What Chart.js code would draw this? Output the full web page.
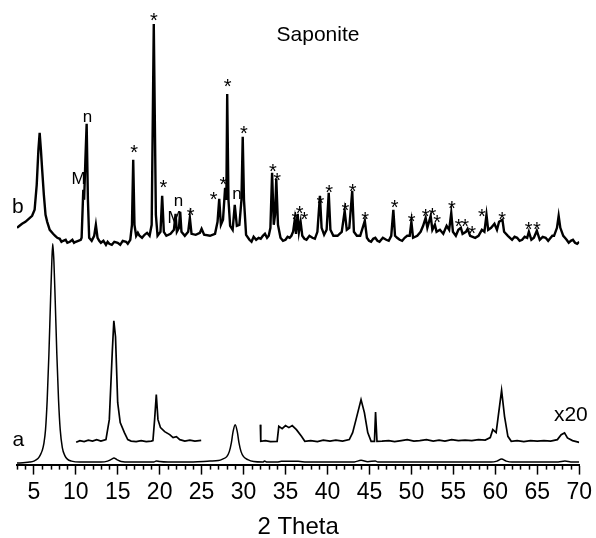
<!DOCTYPE html>
<html>
<head>
<meta charset="utf-8">
<script src="https://cdn.jsdelivr.net/npm/chart.js@4.4.1/dist/chart.umd.min.js"></script>
<style>
html, body { margin: 0; padding: 0; background: #fff; }
#wrap { width: 596px; height: 538px; position: relative; }
</style>
</head>
<body>
<div id="wrap"><canvas id="xrd" width="596" height="538"></canvas></div>
<script>
// pattern a (as measured)
var aX = [3, 4, 4.5, 5, 5.5, 5.8, 6, 6.2, 6.4, 6.6, 6.8, 7, 7.15, 7.26, 7.4, 7.55, 7.75, 7.95, 8.15, 8.4, 8.7, 9, 9.5, 10.5,
  13, 13.8, 14.3, 14.55, 14.9, 15.4, 16.5, 19.3, 19.6, 20, 21, 24, 26, 27, 27.5, 28, 28.3, 28.55, 28.75, 29, 29.25, 29.45, 29.7, 30, 30.5, 31.2,
  32.3, 32.5, 32.8, 34, 34.5, 36.5, 37.5, 43.2, 44, 44.8, 45.7, 46, 59.5, 60.2, 60.75, 61.3, 62, 67.5, 68.3, 69, 70];
var aY = [1.5, 2, 2.5, 3.5, 6, 10, 14, 21, 35, 65, 110, 165, 203, 221, 203, 165, 110, 65, 35, 17, 9, 5.5, 3.5, 2.5,
  2.5, 3.5, 5.5, 6.5, 5, 3.2, 2.5, 2.5, 3.7, 3, 2.5, 2.7, 3.5, 4, 5.5, 8, 13, 22, 33, 40, 33, 22, 13, 8, 5, 3,
  2.5, 3.5, 2.5, 2.5, 3.3, 3.3, 2.5, 2.7, 4.3, 2.8, 3.7, 2.5, 2.5, 3.5, 5.5, 3.5, 2.5, 2.7, 3.5, 2.7, 2.5];

// pattern a, x20 (gap near the 29 peak)
var cX = [10.05, 10.5, 11, 11.5, 12, 12.5, 13, 13.6, 14, 14.35, 14.54, 14.74, 15, 15.3, 15.8, 16.2, 16.6, 17.2, 17.8, 18.4, 19, 19.2, 19.4, 19.6, 19.8,
  20.1, 20.6, 21.2, 21.6, 22, 22.4, 23, 23.6, 24.2, 24.95, 28,
  32, 32.05, 32.6, 33.2, 34, 34.2, 34.6, 35, 35.4, 35.8, 36.3, 36.9, 37.3, 38, 38.8, 39.5, 40.3, 41, 41.8, 42.6, 43, 43.4, 44, 44.4, 44.8,
  45.2, 45.6, 45.73, 45.9, 46.5, 47.3, 48, 48.8, 49.5, 50.3, 51, 51.8, 52.6, 53.3, 54, 54.8, 55.6, 56.4, 57.2, 58, 58.8, 59.4, 59.7, 60.1, 60.3,
  60.75, 61.1, 61.5, 61.9, 62.6, 63.4, 64.2, 65, 65.8, 66.6, 67.4, 67.85, 68.25, 68.6, 69.2, 70];
var cY = [22.3, 24, 23, 24.5, 23.5, 25, 23.5, 25, 45, 112, 144, 128, 62, 42, 32, 25, 23.5, 23, 24, 23, 23.5, 24, 45, 70, 45,
  37, 33, 30, 27, 28, 25, 23.5, 24.5, 23.5, 24.3, null,
  40, 23.3, 24, 23, 23.3, 38.3, 36, 39, 37, 39, 35, 28.3, 23.3, 24, 23, 24.5, 23.5, 24.5, 23.5, 25, 32, 45, 65, 52, 32,
  23.3, 23.3, 52.7, 23.3, 23.5, 24, 23, 24, 25, 23.5, 24, 25, 23.5, 24.5, 23.5, 25, 24, 24.5, 24, 25, 24.5, 27, 35, 32, 45,
  74.3, 48.3, 28.3, 23.3, 24, 23, 24, 23.5, 24, 23.5, 25, 30, 31.7, 26.7, 24, 22.3];

// pattern b
var bX = [3, 3.3, 3.6, 4, 4.4, 4.8, 5.1, 5.35, 5.55, 5.7, 5.85, 6, 6.2, 6.4, 6.6, 6.9, 7.3,
  7.55, 7.8, 8.1, 8.3, 8.5, 8.8, 9, 9.3, 9.6, 9.8, 10, 10.3, 10.6,
  10.7, 10.9, 11, 11.15, 11.3, 11.45, 11.6, 11.9, 12.2, 12.4, 12.6,
  12.8, 13, 13.3, 13.6, 13.8, 14, 14.3, 14.6, 15, 15.3, 15.6, 16, 16.2, 16.5,
  16.7, 16.85, 17, 17.2, 17.4, 17.6, 17.9, 18.2, 18.5, 18.8, 19.05, 19.3, 19.55, 19.75, 20.1, 20.3, 20.5, 20.8,
  21.3, 21.7, 21.9, 22.05, 22.3, 22.45, 22.6, 23, 23.4, 23.6, 23.8, 24.3, 24.8, 25, 25.3, 26, 26.6,
  26.9, 27.1, 27.3, 27.55, 27.8, 27.95, 28.05, 28.2, 28.4, 28.7, 28.95, 29.2, 29.5, 29.75, 29.9, 30.05, 30.3,
  30.7, 30.95, 31.2, 31.5, 31.8, 32.05, 32.3, 32.55, 32.8, 33, 33.2, 33.4, 33.6, 33.75, 33.9, 34.1, 34.4,
  34.7, 35, 35.25, 35.5, 35.7, 35.9, 36.1, 36.25, 36.45, 36.6, 36.8, 37, 37.25, 37.5, 37.85, 38.2, 38.5, 38.8,
  39.1, 39.3, 39.6, 39.9, 40.15, 40.35, 40.7, 41.2, 41.7, 42.05, 42.3, 42.6, 42.95, 43.15, 43.5, 43.9,
  44.45, 44.7, 44.95, 45.2, 45.45, 45.7, 45.95, 46.2, 46.6, 47, 47.3, 47.6, 47.85, 48.05, 48.3, 48.6, 48.9, 49.2, 49.5, 49.8,
  50, 50.2, 50.7, 51.1, 51.4, 51.7, 51.9, 52.3, 52.5, 52.8, 53, 53.4, 53.8, 54.2, 54.5, 54.75, 54.95,
  55.3, 55.6, 55.9, 56.1, 56.5, 56.7, 57, 57.6, 58, 58.4, 58.7, 58.95, 59.15, 59.5, 59.9, 60.2, 60.45, 60.85, 61.05,
  61.5, 61.75, 62, 62.3, 62.6, 62.9, 63.2, 63.5, 63.8, 64, 64.3, 64.6, 64.95, 65.3, 65.65, 66, 66.3, 66.6, 66.8, 67,
  67.35, 67.55, 67.75, 68.1, 68.3, 68.5, 68.75, 69, 69.25, 69.5, 69.75, 70];
var bY = [237, 239, 241, 243, 246, 249, 255, 280, 315, 332, 315, 295, 270, 250, 243, 235, 231,
  229, 227, 226, 223, 224, 225, 222, 223, 225, 222, 223, 224, 225,
  227, 275, 265, 305, 341, 265, 227, 224, 229, 240, 227,
  224, 222, 224, 220, 223, 221, 220, 223, 222, 220, 224, 223, 221, 225,
  240, 305, 240, 229, 232, 229, 227, 230, 232, 229, 240, 441, 250, 229, 233, 269, 233, 229,
  231, 235, 251, 233, 237, 253, 233, 229, 233, 247, 231, 230, 232, 236, 230, 229, 231,
  243, 266, 240, 245, 277, 265, 371, 265, 239, 235, 260, 239, 240, 265, 328, 265, 230,
  225, 223, 228, 225, 227, 226, 229, 231, 227, 229, 237, 292, 240, 250, 286, 240, 227,
  224, 225, 228, 227, 229, 233, 245, 231, 251, 233, 243, 229, 226, 225, 229, 227, 226, 233,
  269, 237, 230, 235, 272, 235, 229, 229, 233, 254, 235, 237, 274, 233, 229, 229,
  244, 227, 224, 223, 226, 227, 224, 223, 227, 225, 224, 229, 255, 229, 227, 225, 224, 227, 229, 229,
  243, 227, 229, 233, 239, 247, 237, 249, 235, 240, 233, 235, 231, 239, 235, 252, 233,
  229, 235, 237, 231, 233, 236, 229, 227, 229, 235, 233, 250, 235, 237, 241, 235, 243, 245, 233,
  229, 227, 225, 228, 227, 224, 225, 228, 227, 233, 225, 227, 234, 225, 228, 227, 224, 227, 229, 229,
  237, 249, 237, 229, 227, 225, 222, 224, 225, 222, 221, 223];

// peak marks above pattern b
var starX = [19.3, 28.09, 30.03, 16.97, 20.46, 23.68, 26.42, 27.61, 33.49, 34.01, 36.19, 36.67, 37.26, 39.17, 40.21, 42.15, 42.99, 44.5,
  47.99, 50.02, 51.69, 52.49, 53.08, 54.82, 55.62, 56.42, 57.25, 58.4, 60.83, 63.96, 64.95];
var starY = [450, 384, 336.7, 317.3, 282.3, 254.3, 270.7, 285, 298.3, 289.3, 250.7, 256, 250.7, 266, 277.3, 259.3, 278.3, 250.7,
  262.7, 248.3, 253.3, 254.3, 247.7, 261, 243.3, 243.3, 236.7, 253.3, 250.7, 240, 240];
var peakText = ['n', 'M', 'n', 'M', 'n'];
var peakX = [11.4, 10.33, 22.25, 21.77, 29.22];
var peakY = [347, 287, 263, 248, 270];

// other texts
var noteText = ['Saponite', 'a', 'b', 'x20'];
var noteX = [38.87, 3.16, 3.09, 69.0];
var noteY = [431.7, 24.1, 259.3, 51.2];

function pts(xs, ys) {
  return xs.map(function (x, i) { return { x: x, y: ys[i] }; });
}

var FONT = '"Liberation Sans", Arial, sans-serif';
Chart.defaults.font.family = FONT;
Chart.defaults.color = '#000';

function midOffset(t) {
  if (t === '*') return 0.58;
  if (t.length === 1 && t !== 'b' && t === t.toLowerCase()) return 0.26;
  return 0.36;
}

var minorTicks = {
  id: 'minorTicks',
  afterDraw: function (chart) {
    var sx = chart.scales.x, c = chart.ctx, y0 = chart.chartArea.bottom;
    c.save();
    c.strokeStyle = '#000';
    c.lineWidth = 1.5;
    sx.ticks.forEach(function (t) {
      if (t.value % 5 !== 0) {
        var px = Math.round(sx.getPixelForValue(t.value)) + 0.5;
        c.beginPath();
        c.moveTo(px, y0);
        c.lineTo(px, y0 + 5);
        c.stroke();
      }
    });
    c.restore();
  }
};

var peakLabels = {
  id: 'peakLabels',
  afterDatasetsDraw: function (chart) {
    var sx = chart.scales.x, sy = chart.scales.y, c = chart.ctx;
    c.save();
    c.fillStyle = '#000';
    c.textAlign = 'center';
    c.textBaseline = 'alphabetic';
    var fs = 20;
    c.font = fs + 'px ' + FONT;
    starX.forEach(function (x, i) {
      c.fillText('*', sx.getPixelForValue(x), sy.getPixelForValue(starY[i]) + midOffset('*') * fs);
    });
    fs = 17;
    c.font = fs + 'px ' + FONT;
    peakText.forEach(function (t, i) {
      c.fillText(t, sx.getPixelForValue(peakX[i]), sy.getPixelForValue(peakY[i]) + midOffset(t) * fs);
    });
    fs = 21;
    c.font = fs + 'px ' + FONT;
    noteText.forEach(function (t, i) {
      c.fillText(t, sx.getPixelForValue(noteX[i]), sy.getPixelForValue(noteY[i]) + midOffset(t) * fs);
    });
    c.restore();
  }
};

var ctx = document.getElementById('xrd').getContext('2d');
new Chart(ctx, {
  type: 'line',
  data: {
    datasets: [
      { label: 'a', data: pts(aX, aY), borderColor: '#000', borderWidth: 1.5, pointRadius: 0, fill: false, cubicInterpolationMode: 'monotone' },
      { label: 'a x20', data: pts(cX, cY), borderColor: '#000', borderWidth: 1.7, pointRadius: 0, fill: false, tension: 0, spanGaps: false },
      { label: 'b', data: pts(bX, bY), borderColor: '#000', borderWidth: 2.4, pointRadius: 0, fill: false, tension: 0 }
    ]
  },
  options: {
    responsive: false,
    animation: false,
    events: [],
    layout: { padding: { left: 17, right: 16, top: 0, bottom: -4 } },
    plugins: { legend: { display: false }, tooltip: { enabled: false } },
    scales: {
      x: {
        type: 'linear', min: 3, max: 70,
        ticks: {
          stepSize: 1, autoSkip: false, maxRotation: 0, minRotation: 0, padding: 4,
          font: { size: 23 }, color: '#000',
          callback: function (v) { return v % 5 === 0 ? String(v) : ''; }
        },
        grid: {
          drawOnChartArea: false, drawTicks: true, tickLength: 10, tickWidth: 1.5,
          tickColor: function (c) { return (c.tick && c.tick.value % 5 === 0) ? '#000' : 'rgba(0,0,0,0)'; }
        },
        border: { display: true, color: '#000', width: 2 },
        title: { display: true, text: '2 Theta', color: '#000', font: { size: 24 }, padding: { top: 3, bottom: 0 } }
      },
      y: { display: false, min: 0, max: 465 }
    }
  },
  plugins: [minorTicks, peakLabels]
});
</script>
</body>
</html>
